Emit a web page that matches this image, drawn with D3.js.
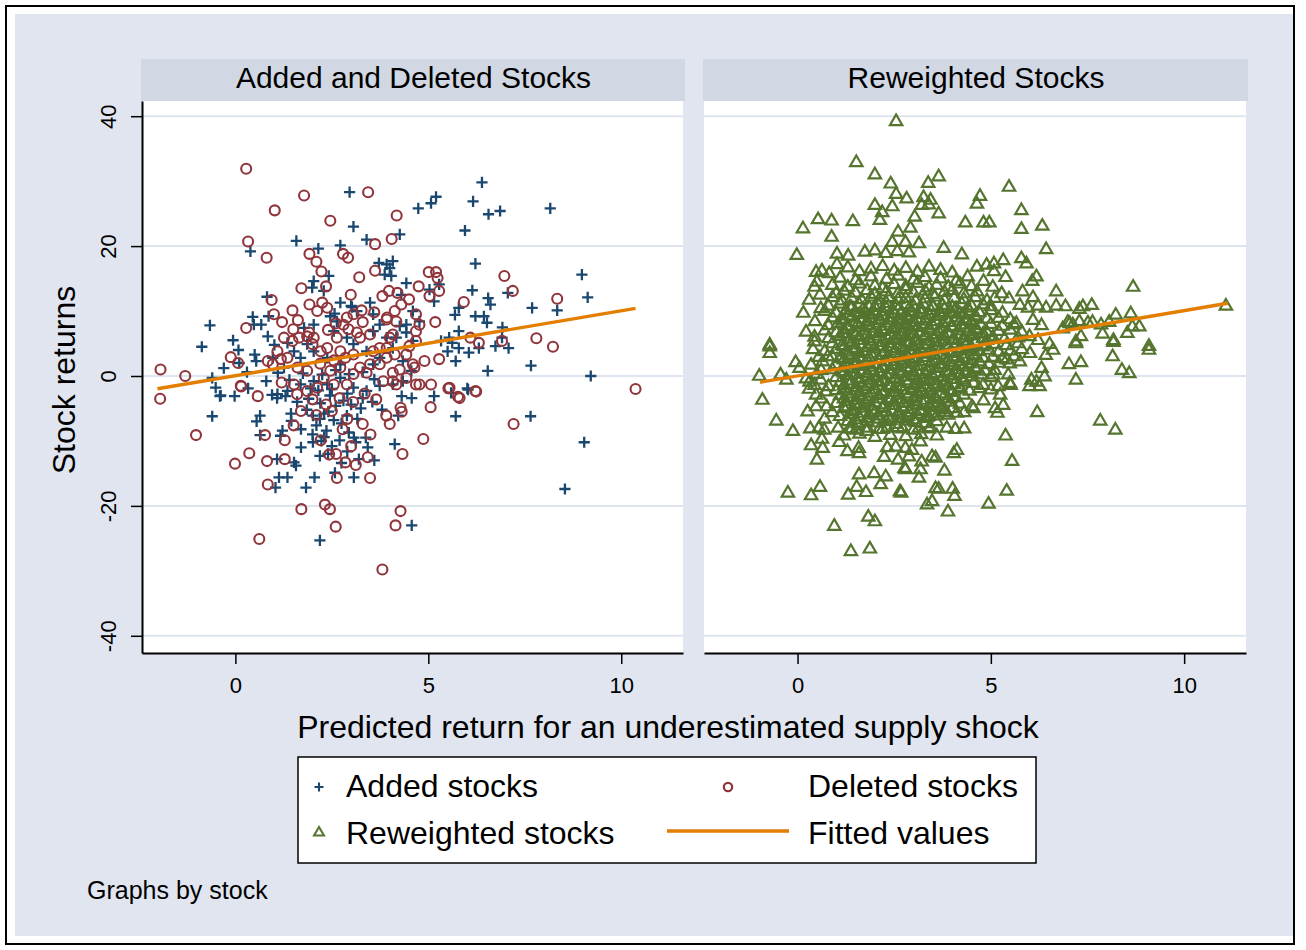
<!DOCTYPE html>
<html><head><meta charset="utf-8">
<script src="https://cdn.jsdelivr.net/npm/d3@7"></script>
<style>body{margin:0;background:#fff}</style>
</head><body>
<script>
// ---------------- DATA ----------------
const panelTitles = ["Added and Deleted Stocks", "Reweighted Stocks"];
const xTickValues = [0, 5, 10];
const yTickValues = [-40, -20, 0, 20, 40];
const xTitle = "Predicted return for an underestimated supply shock";
const yTitle = "Stock returns";
const noteText = "Graphs by stock";
const legendLabels = ["Added stocks", "Deleted stocks", "Reweighted stocks", "Fitted values"];

const added = [
[2.96,28.3],[3.06,23.0],[0.39,19.2],[1.58,20.8],[2.15,19.6],[2.72,20.1],[3.4,21.0],[4.26,21.8],[4.74,25.8],
[3.72,17.4],[3.92,17.2],[4.08,17.7],[4.0,16.6],[3.87,15.6],[4.04,15.4],
[2.42,15.4],[2.03,14.6],[1.99,13.6],[2.29,13.1],[0.82,12.2],
[4.43,14.3],[4.3,12.5],[3.49,11.3],[3.0,10.8],[2.72,11.3],[2.57,9.6],
[0.86,9.2],[0.45,9.1],[0.67,7.9],[0.48,7.9],[-0.66,7.8],
[-0.06,5.5],[0.08,4.0],[-0.87,4.5],
[0.84,6.1],[1.01,4.8],[1.35,5.1],[0.97,2.8],[0.5,3.3],[0.54,2.3],
[1.78,7.4],[2.03,7.9],[2.46,9.2],[2.63,8.4],[3.02,10.6],[3.15,10.0],
[-0.6,-0.3],[-0.51,-1.8],[-0.4,-3.1],[-0.02,-3.1],[0.33,-1.9],
[1.09,-2.8],[1.35,-2.3],[1.69,-1.3],[2.03,-0.8],[2.38,-1.3],[2.72,-0.3],[3.06,-1.8],[3.4,-2.3],[3.74,-1.5],[4.08,-1.3],[4.34,-0.8],[4.56,0.8],
[3.57,9.5],[3.74,7.9],[3.57,6.9],[3.92,5.9],[4.17,5.9],[4.43,7.9],[4.6,5.4],[3.74,2.8],[4.34,2.3],[4.08,4.3],
[1.69,2.8],[2.03,3.8],[2.38,2.8],[2.72,1.8],[3.06,4.9],[3.4,3.8],[3.57,1.8],[2.55,6.9],[2.89,5.9],[1.86,4.9],[1.52,3.8],[1.26,1.3],
[6.39,29.8],[5.2,27.6],[5.07,26.6],[6.16,26.9],[6.56,24.9],[6.86,25.4],[8.16,25.8],[5.95,22.4],[6.22,17.3],[8.98,15.6],[9.13,12.1],
[5.03,13.3],[5.28,14.1],[6.14,13.2],[6.55,12.0],[6.61,11.0],[7.06,12.8],[7.69,10.5],[8.34,10.1],
[4.6,10.0],[4.77,8.4],[5.15,11.5],[5.69,9.4],[5.79,10.5],[6.22,9.2],[6.44,9.2],[6.52,8.2],[6.92,7.5],[6.91,5.9],
[5.54,5.9],[5.79,6.9],[5.62,5.1],[5.79,4.3],[6.05,3.6],[6.31,4.3],[6.74,4.6],[7.08,4.3],
[5.33,5.4],[5.5,3.8],[5.71,2.3],[7.66,1.6],[6.54,0.8],[9.21,0.0],[6.01,-1.9],[4.26,7.7],[4.43,6.7],
[-0.6,-6.2],[-0.38,-3.0],[0.55,-7.0],[0.64,-6.1],[0.64,-9.1],
[0.95,-2.9],[1.08,-3.4],[1.3,-3.1],[1.44,-5.8],[1.22,-8.4],[1.17,-9.2],
[1.7,-8.2],[1.7,-11.0],[2.01,-10.2],[2.19,-12.3],[2.23,-10.0],[2.05,-15.6],[1.83,-17.2],
[2.01,-6.1],[2.1,-7.6],[2.19,-6.6],[2.36,-8.4],[2.41,-5.5],
[2.94,-8.7],[3.07,-9.5],[3.12,-10.2],[3.38,-9.5],[3.43,-11.0],[3.16,-6.6],[2.89,-6.1],[3.25,-5.0],
[2.58,-14.9],[3.07,-15.6],[1.08,-12.8],[1.52,-13.3],[1.57,-13.8],[1.13,-15.6],[1.35,-15.6],[1.04,-17.2],
[2.19,-25.3],[4.57,-23.0],[4.13,-10.5],[4.31,-3.1],[4.57,-3.4],[5.15,-3.1],[5.59,-2.6],[6.03,-2.1],
[5.71,-6.2],[7.65,-6.2],[9.04,-10.2],[8.54,-17.4],[4.22,-6.1],
[1.9,-3.5],[2.2,-4.2],[2.45,-3.0],[2.6,-4.6],[2.8,-3.8],[3.0,-4.4],[2.3,-5.8],[2.55,-6.8],[2.75,-7.3],[2.0,-9.0],
[2.3,-9.4],[2.5,-10.8],[2.7,-9.9],[1.85,-5.2],[1.6,-4.0],[1.45,-6.9],[2.15,-2.2],[2.5,-2.0],[2.9,-2.7],[3.3,-3.4],
[3.55,-4.0],[3.8,-5.2],[1.95,-1.9],[2.25,0.2],[2.6,0.9],[2.95,0.3],[3.3,0.6],[3.6,-0.5],[1.75,0.4],[1.4,-0.6],
[1.1,0.5],[0.8,-0.8],[0.3,0.6],[0.1,2.0],[-0.3,1.2],[3.2,-12.8],[3.6,-13.0],[2.4,-12.0],[2.9,-11.6],[2.75,-13.4]
];

const deleted = [
[0.28,31.9],[3.44,28.3],[1.78,27.8],[1.02,25.5],[2.46,23.9],[4.18,24.7],[0.33,20.7],[0.81,18.2],[1.92,18.8],[2.1,17.6],
[2.79,18.8],[2.92,18.2],[3.62,20.3],[4.05,21.1],[2.23,16.1],[3.62,16.2],[3.21,15.2],[1.71,13.5],[2.35,13.8],
[2.99,12.5],[3.81,12.3],[3.98,13.1],[4.2,12.8],[4.5,11.8],[4.75,13.8],[0.94,11.7],
[1.48,10.1],[1.92,11.0],[2.25,11.3],[2.38,10.5],[2.12,10.0],[3.27,10.1],[3.06,9.5],[2.89,9.0],
[3.93,9.0],[4.13,10.0],[4.3,11.0],[4.17,8.4],[4.68,9.5],[1.21,8.3],[1.62,8.6],[0.28,7.4],
[-0.12,2.9],[0.07,2.0],[-1.3,0.0],[-1.94,1.0],[-1.95,-3.5],[0.14,-1.5],[0.58,-3.1],
[0.84,2.3],[0.97,1.8],[1.18,2.6],[1.26,5.9],[1.48,5.4],[1.65,5.9],[1.86,6.1],[2.03,5.9],[1.91,6.7],[2.21,3.8],
[2.38,4.3],[2.63,5.9],[2.8,7.9],[2.93,7.2],[3.15,6.7],[3.23,5.9],[3.49,6.4],[2.72,3.8],[2.85,2.8],[3.06,3.3],
[3.23,1.3],[3.49,1.8],[3.74,1.8],[3.92,2.8],[4.13,3.3],[4.43,3.3],[4.6,1.8],[4.68,5.4],[4.77,7.9],[4.0,5.9],
[3.74,4.3],[3.57,3.8],[3.4,0.5],[3.06,0.3],[2.89,-1.3],[2.55,-1.3],[2.29,-0.3],[1.86,0.8],[1.61,1.3],[1.35,2.8],
[1.09,3.8],[1.52,-1.3],[1.86,-2.3],[2.12,-1.8],[2.46,0.8],[2.72,1.3],[3.83,-0.8],[4.17,-1.3],[4.43,-0.3],[4.68,-1.3],[4.08,0.5],
[6.97,15.4],[7.19,13.1],[8.34,11.9],[5.01,16.0],[5.2,16.0],[5.24,15.1],[5.03,12.3],[5.28,13.1],[5.92,11.4],[5.18,8.3],
[7.8,5.8],[8.23,4.5],[6.91,5.4],[6.31,5.1],[6.09,5.9],[5.28,2.6],[6.22,-2.3],[5.77,-3.2],[5.52,-1.9],[10.37,-2.0],
[3.92,8.7],[4.68,6.9],[4.51,4.6],[4.08,6.4],[3.92,4.3],[4.9,2.3],[4.64,1.3],[4.26,1.0],[4.08,-0.8],[4.77,-1.3],[5.07,-1.3],
[-1.02,-9.1],[-0.01,-13.5],[0.36,-11.9],[0.82,-13.1],[0.84,-16.7],[0.62,-25.1],[0.15,-1.6],[0.77,-9.1],[1.28,-9.9],[1.51,-7.6],
[1.28,-12.8],[1.71,-20.5],[2.32,-19.8],[2.45,-20.5],[2.6,-23.2],[2.21,-9.9],[2.43,-12.1],[2.61,-12.0],[2.85,-13.3],[3.12,-13.7],
[3.43,-12.5],[2.63,-15.7],[3.49,-15.7],[2.78,-8.2],[3.81,-29.8],[4.28,-20.8],[4.15,-23.0],[3.91,-6.1],[4.0,-7.4],[4.31,-5.5],
[4.28,-4.9],[5.06,-4.8],[4.87,-9.7],[4.33,-12.0],[5.81,-3.4],[6.24,-2.4],[5.55,-1.8],[7.21,-7.4],
[1.2,-1.0],[1.6,-2.8],[2.0,-3.6],[2.35,-4.4],[2.7,-3.4],[3.05,-4.0],[3.35,-2.7],[3.65,-3.6],[2.1,-6.0],[2.5,-5.4],
[2.9,-6.6],[3.3,-7.4],[1.7,-5.4],[3.5,-9.0],[3.0,-10.8],[2.2,1.9],[2.55,2.4],[2.0,4.9],[3.3,8.3],[3.6,9.8],
[2.6,8.1],[2.4,7.1],[1.5,7.2],[1.0,9.5]
];

const reweighted = [
[2.55,39.3],[1.52,33.0],[2.0,31.1],[2.41,29.7],[3.65,30.8],[3.38,29.8],[2.55,28.1],[2.82,27.4],[3.26,27.6],[3.44,27.2],
[3.21,26.4],[3.39,26.5],[2.0,26.4],[2.45,26.2],[2.19,25.3],[2.13,24.1],[3.03,24.6],[3.65,25.1],[4.64,26.6],[4.34,23.7],
[0.53,24.2],[0.88,24.0],[1.43,23.9],[0.14,22.8],[0.88,21.5],[2.6,22.3],[2.92,22.9],[-0.02,18.7],[1.02,18.9],[1.31,18.6],
[2.45,20.7],[2.79,20.7],[3.14,20.5],[3.78,19.8],[4.25,18.8],[1.74,19.2],[2.0,19.4],[2.28,19.0],[2.58,19.3],[2.88,19.1],
[1.02,17.3],[0.48,16.1],[0.63,16.3],[0.82,15.9],[0.44,13.8],[0.58,12.6],[0.22,6.9],[0.44,6.1],[-0.72,4.9],
[5.47,29.2],[4.72,27.8],[5.79,25.6],[4.81,23.7],[4.96,23.7],[5.79,22.7],[6.33,23.2],[6.43,19.6],[5.32,17.9],[5.79,18.2],
[5.92,17.4],[4.64,16.9],[4.89,17.2],[5.08,17.4],[5.08,16.2],[5.38,15.3],[6.18,15.4],[6.07,14.7],[4.81,14.7],[5.05,13.8],
[4.64,13.1],[8.68,13.8],[6.69,13.1],[5.82,13.1],[6.09,12.2],[5.47,12.0],[5.28,12.8],
[6.93,10.8],[6.69,10.9],[6.43,10.6],[6.22,10.9],[5.96,10.6],[5.75,11.0],[7.61,11.0],[7.38,10.8],[7.29,10.4],
[8.23,9.5],[8.62,9.7],[6.99,8.4],[7.12,8.0],[7.29,8.5],[7.51,8.3],[7.63,8.4],[7.85,8.0],[8.06,8.4],[6.09,8.7],
[6.31,7.9],[5.66,8.2],[11.08,10.9],[8.66,7.7],[8.84,7.7],[8.53,6.7],[7.89,6.6],[8.17,5.6],[7.33,6.2],[7.2,5.4],
[6.86,7.4],[7.04,8.2],[9.09,4.7],[6.52,5.0],[6.22,5.6],
[-0.72,4.6],[-0.72,3.6],[-0.99,0.1],[-0.44,0.3],[-0.29,-0.5],[-0.05,2.2],[0.05,1.3],[-0.91,-3.6],[-0.55,-6.8],[-0.12,-8.4],
[0.5,-12.8],[0.35,-10.6],[-0.25,-17.9],[0.35,-18.3],[0.58,-17.0],[0.95,-23.0],[1.38,-26.9],[1.87,-26.5],[1.83,-21.6],[2.0,-22.3],
[1.59,-15.1],[1.98,-14.9],[2.28,-15.4],[2.15,-16.6],[1.53,-17.0],[1.77,-17.8],[1.31,-18.2],[2.65,-17.7],[2.68,-17.9],[3.35,-19.7],
[3.48,-19.2],[3.89,-20.8],[3.57,-17.2],[3.65,-17.3],[4.01,-17.3],[4.06,-18.4],[3.14,-15.6],[3.18,-14.3],[2.79,-14.3],[2.77,-14.1],[3.8,-14.5],
[2.24,-12.4],[2.6,-12.8],[2.88,-12.3],[3.21,-13.1],[3.48,-12.3],[3.57,-12.5],[4.12,-11.3],[4.04,-11.8],[1.58,-11.0],[1.59,-11.8],
[1.29,-11.5],[1.08,-10.1],[0.65,-11.0],[0.63,-9.6],[2.32,-10.9],[2.54,-10.8],[2.79,-11.0],[2.96,-11.3],[3.18,-10.0],
[0.33,-8.0],[0.55,-7.9],[0.69,-8.2],[1.05,-7.9],[1.34,-8.0],[1.51,-8.2],[1.79,-8.4],[2.11,-8.1],[2.32,-7.9],[2.72,-8.0],
[3.14,-7.9],[3.44,-7.8],[3.86,-7.9],[4.08,-8.1],[4.31,-8.0],[4.51,-4.6],[4.12,-5.6],[4.31,-5.5],[3.78,-4.9],[3.39,-6.1],[3.57,-4.6],
[0.26,-5.4],[0.48,-4.6],[0.75,-4.6],[0.61,-3.4],[0.48,-2.8],[0.74,-2.3],[0.8,-1.5],[0.31,-0.8],[0.44,-1.3],[0.22,-0.3],
[0.78,3.1],[0.65,2.3],[0.61,1.0],[0.44,5.4],
[9.09,4.1],[8.15,3.1],[8.39,1.0],[8.58,0.5],[7.2,5.1],[8.17,5.3],[7.02,1.9],[7.33,2.2],[7.2,-0.5],[6.2,-5.5],
[7.83,-6.8],[8.22,-8.2],[5.38,-9.1],[5.55,-13.0],[5.41,-17.6],[4.94,-19.6],
[6.31,1.3],[6.39,0.0],[6.05,-0.5],[6.18,-0.8],[6.26,-1.5],[6.0,-1.5],[5.45,0.3],[5.49,-1.0],[5.51,-1.3],[5.06,0.3],
[5.19,-1.5],[5.24,-2.8],[5.32,-4.4],[4.81,-3.7],[5.11,-4.9],[5.17,-5.6],[4.55,-4.9],[6.61,4.1],[6.42,3.3],[6.01,3.6],
[5.75,2.3],[5.49,2.0],[5.41,2.6],
[1.3,16.8],[1.6,16.2],[1.9,16.6],[2.2,17.0],[2.5,16.3],[2.8,16.7],[3.1,16.1],[3.4,16.9],[3.7,16.4],[4.0,16.0],
[1.1,15.2],[1.5,14.8],[1.9,15.4],[2.3,15.0],[2.6,15.5],[3.0,14.9],[3.3,15.3],[3.7,15.1],[4.1,14.7],[4.4,15.4],
[0.9,14.1],[1.3,13.8],[1.6,14.3],[2.0,14.0],[2.2,13.6],[2.5,14.2],[2.8,13.9],[3.1,14.4],[3.4,13.7],[3.6,14.1],[3.9,13.8],[4.2,14.3],[4.5,13.9],
[1.0,12.8],[1.2,13.2],[1.5,12.9],[1.8,13.3],[2.0,12.7],[2.3,13.1],[2.6,12.8],[2.8,13.4],[3.0,12.9],[3.3,13.2],[3.5,12.7],[3.8,13.0],[4.0,13.3],[4.3,12.8],
[0.9,12.2],[1.15,11.7],[1.4,12.1],[1.65,11.9],[1.9,12.3],[2.1,11.8],[2.35,12.2],[2.6,11.9],[2.8,12.1],[3.05,11.7],[3.3,12.0],[3.55,12.3],[3.8,11.8],[4.05,12.1],[4.3,11.9],[4.6,12.2],[4.9,11.7],[5.1,12.1],
[0.8,10.9],[1.1,11.2],[1.35,10.8],[1.6,11.1],[1.85,10.7],[2.1,11.0],[2.3,11.3],[2.55,10.9],[2.8,11.1],[3.0,10.8],[3.25,11.2],[3.5,10.9],[3.75,11.0],[4.0,10.7],[4.25,11.2],[4.5,10.9],[4.8,11.1],[5.0,10.8],
[0.7,10.1],[1.0,9.8],[1.25,10.2],[1.5,9.9],[1.75,10.1],[2.0,9.7],[2.2,10.0],[2.45,10.3],[2.7,9.9],[2.95,10.1],[3.2,9.8],[3.45,10.2],[3.7,9.9],[3.95,10.0],[4.2,9.7],[4.45,10.1],[4.7,9.9],[5.0,10.2],[5.3,9.8],
[0.9,9.1],[1.15,8.8],[1.4,9.2],[1.65,8.9],[1.9,9.0],[2.15,8.7],[2.4,9.1],[2.6,8.9],[2.85,9.2],[3.1,8.8],[3.35,9.0],[3.6,9.3],[3.85,8.9],[4.1,9.1],[4.35,8.8],[4.6,9.2],[4.9,8.9],[5.2,9.0],[5.5,8.8],
[0.8,7.9],[1.05,8.2],[1.3,7.8],[1.55,8.1],[1.8,7.9],[2.05,8.3],[2.3,7.8],[2.55,8.0],[2.8,8.2],[3.0,7.7],[3.25,8.1],[3.5,7.9],[3.75,8.2],[4.0,7.8],[4.25,8.0],[4.5,8.3],[4.75,7.9],[5.0,8.1],[5.3,7.8],[5.6,8.0],
[0.7,7.1],[1.0,6.8],[1.2,7.2],[1.45,6.9],[1.7,7.1],[1.95,6.7],[2.2,7.0],[2.45,7.3],[2.7,6.9],[2.9,7.1],[3.15,6.8],[3.4,7.2],[3.65,7.0],[3.9,6.7],[4.15,7.1],[4.4,6.9],[4.65,7.2],[4.9,6.8],[5.2,7.0],[5.5,7.2],[5.8,6.9],
[0.8,5.9],[1.1,6.2],[1.35,5.8],[1.6,6.1],[1.85,5.9],[2.1,6.3],[2.35,5.8],[2.6,6.0],[2.8,6.2],[3.05,5.7],[3.3,6.1],[3.55,5.9],[3.8,6.2],[4.05,5.8],[4.3,6.0],[4.55,6.3],[4.8,5.9],[5.05,6.1],[5.35,5.8],[5.7,6.0],[6.0,6.2],
[0.9,5.1],[1.15,4.8],[1.4,5.2],[1.65,4.9],[1.9,5.0],[2.15,4.7],[2.4,5.1],[2.65,4.9],[2.9,5.2],[3.1,4.8],[3.35,5.0],[3.6,5.3],[3.85,4.9],[4.1,5.1],[4.35,4.8],[4.6,5.2],[4.85,4.9],[5.1,5.0],[5.4,4.8],[5.7,5.1],
[0.7,3.9],[1.0,4.2],[1.25,3.8],[1.5,4.1],[1.75,3.9],[2.0,4.3],[2.25,3.8],[2.5,4.0],[2.75,4.2],[2.95,3.7],[3.2,4.1],[3.45,3.9],[3.7,4.2],[3.95,3.8],[4.2,4.0],[4.45,4.3],[4.7,3.9],[4.95,4.1],[5.2,3.8],[5.5,4.0],[5.8,4.2],
[0.9,3.1],[1.1,2.8],[1.35,3.2],[1.6,2.9],[1.85,3.0],[2.1,2.7],[2.35,3.1],[2.6,2.9],[2.85,3.2],[3.05,2.8],[3.3,3.0],[3.55,3.3],[3.8,2.9],[4.05,3.1],[4.3,2.8],[4.55,3.2],[4.8,2.9],[5.05,3.0],[5.3,2.8],[5.6,3.1],
[1.0,1.9],[1.25,2.2],[1.5,1.8],[1.75,2.1],[2.0,1.9],[2.25,2.3],[2.5,1.8],[2.7,2.0],[2.95,2.2],[3.2,1.7],[3.45,2.1],[3.7,1.9],[3.95,2.2],[4.2,1.8],[4.45,2.0],[4.7,2.3],[4.95,1.9],[5.2,2.1],
[0.9,1.1],[1.15,0.8],[1.4,1.2],[1.65,0.9],[1.9,1.0],[2.15,0.7],[2.4,1.1],[2.65,0.9],[2.9,1.2],[3.1,0.8],[3.35,1.0],[3.6,1.3],[3.85,0.9],[4.1,1.1],[4.35,0.8],[4.6,1.2],[4.85,0.9],[5.1,1.0],
[1.0,-0.1],[1.3,0.2],[1.55,-0.2],[1.8,0.1],[2.05,-0.1],[2.3,0.3],[2.55,-0.2],[2.8,0.0],[3.0,0.2],[3.25,-0.3],[3.5,0.1],[3.75,-0.1],[4.0,0.2],[4.25,-0.2],[4.5,0.0],[4.75,0.3],[5.0,-0.1],
[1.1,-0.9],[1.35,-1.2],[1.6,-0.8],[1.85,-1.1],[2.1,-0.9],[2.35,-1.3],[2.6,-0.8],[2.85,-1.0],[3.1,-1.2],[3.3,-0.7],[3.55,-1.1],[3.8,-0.9],[4.05,-1.2],[4.3,-0.8],[4.55,-1.0],[4.8,-1.3],
[1.0,-2.1],[1.25,-1.8],[1.5,-2.2],[1.75,-1.9],[2.0,-2.0],[2.25,-2.3],[2.5,-1.9],[2.75,-2.1],[3.0,-1.8],[3.2,-2.2],[3.45,-2.0],[3.7,-1.7],[3.95,-2.1],[4.2,-1.9],[4.45,-2.2],[4.7,-1.8],[5.0,-2.0],
[1.1,-2.9],[1.35,-3.2],[1.6,-2.8],[1.85,-3.1],[2.1,-2.9],[2.35,-3.3],[2.6,-2.8],[2.85,-3.0],[3.05,-3.2],[3.3,-2.7],[3.55,-3.1],[3.8,-2.9],[4.05,-3.2],[4.3,-2.8],
[1.0,-4.1],[1.25,-3.8],[1.5,-4.2],[1.75,-3.9],[2.0,-4.0],[2.25,-4.3],[2.5,-3.9],[2.75,-4.1],[3.0,-3.8],[3.25,-4.2],[3.5,-4.0],[3.95,-3.9],[4.2,-4.2],
[1.2,-4.9],[1.45,-5.2],[1.7,-4.8],[1.95,-5.1],[2.2,-4.9],[2.45,-5.3],[2.7,-4.8],[2.95,-5.0],[3.2,-5.2],[3.45,-4.7],[3.7,-5.1],[4.0,-4.9],
[1.1,-6.1],[1.35,-5.8],[1.6,-6.2],[1.85,-5.9],[2.1,-6.0],[2.35,-6.3],[2.6,-5.9],[2.85,-6.1],[3.1,-5.8],[3.35,-6.2],[3.6,-6.0],[3.9,-5.9],
[1.3,-6.9],[1.55,-7.2],[1.8,-6.8],[2.05,-7.1],[2.3,-6.9],[2.55,-7.3],[2.8,-6.8],[3.05,-7.0],[3.3,-7.2],[3.6,-6.9],
[1.2,-9.1],[1.6,-8.8],[2.0,-9.3],[2.4,-9.0],[2.8,-9.2],[3.2,-8.9],[3.6,-9.1],
[0.4,4.2],[0.55,3.0],[0.35,1.8],[0.5,0.4],[0.3,-1.9],[0.6,-0.5],[0.45,8.5],[0.6,10.5],[0.3,11.8],[0.5,14.6],[0.15,9.8],[0.7,-6.5],[0.9,-5.5],
[1.4,10.6],[1.7,10.4],[2.0,10.7],[2.3,10.5],[2.6,10.3],[2.9,10.6],[3.2,10.4],[3.5,10.7],[3.8,10.4],[4.1,10.5],[4.4,10.6],
[1.3,9.4],[1.6,9.6],[1.9,9.5],[2.2,9.3],[2.5,9.7],[2.8,9.4],[3.1,9.6],[3.4,9.5],[3.7,9.4],[4.0,9.7],[4.3,9.5],[4.6,9.4],
[1.2,8.6],[1.5,8.4],[1.8,8.5],[2.1,8.7],[2.4,8.3],[2.7,8.6],[3.0,8.4],[3.3,8.6],[3.6,8.5],[3.9,8.4],[4.2,8.6],[4.5,8.5],
[1.3,7.4],[1.6,7.6],[1.9,7.5],[2.2,7.3],[2.5,7.6],[2.8,7.4],[3.1,7.6],[3.4,7.5],[3.7,7.4],[4.0,7.6],[4.3,7.5],[4.6,7.4],
[1.2,6.6],[1.5,6.4],[1.8,6.5],[2.1,6.7],[2.4,6.4],[2.7,6.5],[3.0,6.6],[3.3,6.4],[3.6,6.5],[3.9,6.6],[4.2,6.4],[4.5,6.5],[4.8,6.6],
[1.3,5.4],[1.6,5.6],[1.9,5.5],[2.2,5.3],[2.5,5.6],[2.8,5.4],[3.1,5.6],[3.4,5.5],[3.7,5.4],[4.0,5.6],[4.3,5.5],[4.6,5.4],[4.9,5.6],
[1.2,4.6],[1.5,4.4],[1.8,4.5],[2.1,4.6],[2.4,4.4],[2.7,4.5],[3.0,4.6],[3.3,4.4],[3.6,4.5],[3.9,4.6],[4.2,4.4],[4.5,4.5],[4.8,4.6],
[1.3,3.4],[1.6,3.6],[1.9,3.5],[2.2,3.3],[2.5,3.6],[2.8,3.4],[3.1,3.6],[3.4,3.5],[3.7,3.4],[4.0,3.6],[4.3,3.5],[4.6,3.4],
[1.2,2.6],[1.5,2.4],[1.8,2.5],[2.1,2.6],[2.4,2.4],[2.7,2.5],[3.0,2.6],[3.3,2.4],[3.6,2.5],[3.9,2.6],[4.2,2.4],[4.5,2.5],
[1.3,1.4],[1.6,1.6],[1.9,1.5],[2.2,1.3],[2.5,1.6],[2.8,1.4],[3.1,1.6],[3.4,1.5],[3.7,1.4],[4.0,1.6],[4.3,1.5],[4.6,1.4],
[1.2,0.6],[1.5,0.4],[1.8,0.5],[2.1,0.6],[2.4,0.4],[2.7,0.5],[3.0,0.6],[3.3,0.4],[3.6,0.5],[3.9,0.6],[4.2,0.4],[4.5,0.5],
[1.3,-0.6],[1.6,-0.4],[1.9,-0.5],[2.2,-0.7],[2.5,-0.4],[2.8,-0.6],[3.1,-0.4],[3.4,-0.5],[3.7,-0.6],[4.0,-0.4],[4.3,-0.5],
[1.2,-1.4],[1.5,-1.6],[1.8,-1.5],[2.1,-1.4],[2.4,-1.6],[2.7,-1.5],[3.0,-1.4],[3.3,-1.6],[3.6,-1.5],[3.9,-1.4],[4.2,-1.6],
[1.3,-2.6],[1.6,-2.4],[1.9,-2.5],[2.2,-2.7],[2.5,-2.4],[2.8,-2.6],[3.1,-2.4],[3.4,-2.5],[3.7,-2.6],[4.0,-2.4],
[1.2,-3.4],[1.5,-3.6],[1.8,-3.5],[2.1,-3.4],[2.4,-3.6],[2.7,-3.5],[3.0,-3.4],[3.3,-3.6],[3.6,-3.5],[3.9,-3.4],
[1.3,-4.6],[1.6,-4.4],[1.9,-4.5],[2.2,-4.7],[2.5,-4.4],[2.8,-4.6],[3.1,-4.4],[3.4,-4.5],[3.7,-4.6],
[1.4,-5.4],[1.7,-5.6],[2.0,-5.5],[2.3,-5.4],[2.6,-5.6],[2.9,-5.5],[3.2,-5.4],[3.5,-5.6],[3.8,-5.5],
[1.5,-6.6],[1.8,-6.4],[2.1,-6.5],[2.4,-6.7],[2.7,-6.4],[3.0,-6.6],[3.3,-6.4],
[1.4,-8.0],[1.8,-7.9],[2.2,-8.1],[2.6,-7.8],[3.0,-8.2],[3.4,-8.0]
];

// fitted-value lines (endpoints)
const fittedAddedDeleted = [[-2.02,-1.97],[10.37,10.4]];
const fittedReweighted = [[-0.97,-0.96],[11.13,11.2]];

// ---------------- DRAWING ----------------
const W = 1306, H = 950;
const FONT = '"Liberation Sans", Arial, Helvetica, sans-serif';
const NAVY = "#1a476f", MAROON = "#90353b", GREEN = "#55752f", ORANGE = "#e37e00";
const BG = "#e0e5ef", STRIP = "#d1d8e3", GRID = "#dfe5ee";
const fmt = d => String(d);   // plain hyphen minus, as in the original

const svg = d3.select("body").append("svg").attr("width", W).attr("height", H)
  .style("font-family", FONT);
svg.append("rect").attr("width", W).attr("height", H).attr("fill", "#fff");
svg.append("rect").attr("x", 15).attr("y", 14).attr("width", 1279).attr("height", 922).attr("fill", BG);
svg.append("rect").attr("x", 6).attr("y", 6).attr("width", 1288).attr("height", 938)
  .attr("fill", "none").attr("stroke", "#000").attr("stroke-width", 2);

const plotTop = 101, plotBottom = 653;
const panelBoxes = [{x0: 142, x1: 683}, {x0: 704, x1: 1246}];
const y = d3.scaleLinear().domain([-42.65, 42.34]).range([plotBottom, plotTop]);

const symbolPath = {
  plus: "M-5.6,0H5.6M0,-5.6V5.6",
  tri: "M0,-6.2L6.2,4.4L-6.2,4.4Z"
};
const CIRCLE_R = 5.0;
function drawMarks(g, data, sym, color, x) {
  if (sym === "circle") {
    g.append("g").selectAll("circle").data(data).join("circle")
      .attr("cx", d => x(d[0])).attr("cy", d => y(d[1])).attr("r", CIRCLE_R)
      .attr("fill", "none").attr("stroke", color).attr("stroke-width", 2.1);
  } else {
    g.append("g").selectAll("path").data(data).join("path")
      .attr("transform", d => `translate(${x(d[0])},${y(d[1])})`)
      .attr("d", symbolPath[sym])
      .attr("fill", "none").attr("stroke", color).attr("stroke-width", sym === "tri" ? 2.2 : 2.3)
      .attr("stroke-linejoin", "miter");
  }
}

const panelSeries = [
  [{data: added, sym: "plus", color: NAVY}, {data: deleted, sym: "circle", color: MAROON}],
  [{data: reweighted, sym: "tri", color: GREEN}]
];
const panelFits = [fittedAddedDeleted, fittedReweighted];

panelBoxes.forEach((pb, i) => {
  const x = d3.scaleLinear().domain([-2.42, 11.6]).range([pb.x0, pb.x1]);
  const g = svg.append("g");
  g.append("rect").attr("x", pb.x0 - 1).attr("y", 59).attr("width", pb.x1 - pb.x0 + 3)
    .attr("height", plotTop - 59).attr("fill", STRIP);
  g.append("text").attr("x", (pb.x0 + pb.x1) / 2 + 1).attr("y", 88).attr("text-anchor", "middle")
    .attr("font-size", 30).attr("fill", "#000").text(panelTitles[i]);
  g.append("rect").attr("x", pb.x0).attr("y", plotTop).attr("width", pb.x1 - pb.x0)
    .attr("height", plotBottom - plotTop).attr("fill", "#fff");
  g.append("g").selectAll("line").data(yTickValues).join("line")
    .attr("x1", pb.x0).attr("x2", pb.x1).attr("y1", d => y(d)).attr("y2", d => y(d))
    .attr("stroke", GRID).attr("stroke-width", 2);

  panelSeries[i].forEach(s => drawMarks(g, s.data, s.sym, s.color, x));

  g.append("path").datum(panelFits[i])
    .attr("d", d3.line().x(d => x(d[0])).y(d => y(d[1])))
    .attr("fill", "none").attr("stroke", ORANGE).attr("stroke-width", 3.4);

  const xa = g.append("g").attr("transform", `translate(0,${plotBottom})`)
    .call(d3.axisBottom(x).tickValues(xTickValues).tickSize(11).tickSizeOuter(0).tickFormat(fmt));
  xa.select(".domain").attr("stroke", "#000").attr("stroke-width", 2);
  xa.selectAll(".tick line").attr("stroke", "#000").attr("stroke-width", 1.5);
  xa.selectAll(".tick text").attr("font-size", 22).attr("font-family", FONT).attr("fill", "#000")
    .attr("y", 40).attr("dy", 0);

  if (i === 0) {
    const ya = g.append("g").attr("transform", `translate(${pb.x0},0)`)
      .call(d3.axisLeft(y).tickValues(yTickValues).tickSize(11).tickSizeOuter(0).tickFormat(fmt));
    ya.select(".domain").attr("stroke", "#000").attr("stroke-width", 2);
    ya.selectAll(".tick line").attr("stroke", "#000").attr("stroke-width", 1.5);
    ya.selectAll(".tick text").attr("font-size", 22).attr("font-family", FONT).attr("fill", "#000")
      .attr("x", 0).attr("dy", 0).attr("text-anchor", "middle")
      .attr("transform", "translate(-26,0) rotate(-90)");
  }
});

// axis titles
svg.append("text").attr("transform", "translate(75,380) rotate(-90)").attr("text-anchor", "middle")
  .attr("font-size", 32).attr("fill", "#000").text(yTitle);
svg.append("text").attr("x", 668).attr("y", 738).attr("text-anchor", "middle")
  .attr("font-size", 32).attr("fill", "#000").text(xTitle);

// legend
const lg = svg.append("g");
lg.append("rect").attr("x", 298).attr("y", 757).attr("width", 738).attr("height", 106)
  .attr("fill", "#fff").attr("stroke", "#000").attr("stroke-width", 1.5);
const legendItems = [
  {label: legendLabels[0], kind: "plus", color: NAVY, kx: 319, ky: 787, tx: 346, ty: 797},
  {label: legendLabels[1], kind: "circle", color: MAROON, kx: 728, ky: 787, tx: 808, ty: 797},
  {label: legendLabels[2], kind: "tri", color: GREEN, kx: 319, ky: 832, tx: 346, ty: 844},
  {label: legendLabels[3], kind: "line", color: ORANGE, kx: 728, ky: 831, tx: 808, ty: 844}
];
legendItems.forEach(it => {
  if (it.kind === "circle") {
    lg.append("circle").attr("cx", it.kx).attr("cy", it.ky).attr("r", 4.2)
      .attr("fill", "none").attr("stroke", it.color).attr("stroke-width", 2.2);
  } else if (it.kind === "line") {
    lg.append("line").attr("x1", it.kx - 61).attr("x2", it.kx + 61).attr("y1", it.ky).attr("y2", it.ky)
      .attr("stroke", it.color).attr("stroke-width", 3.4);
  } else {
    lg.append("path").attr("transform", `translate(${it.kx},${it.ky}) scale(0.8)`).attr("d", symbolPath[it.kind])
      .attr("fill", "none").attr("stroke", it.color).attr("stroke-width", 2.6);
  }
  lg.append("text").attr("x", it.tx).attr("y", it.ty).attr("font-size", 32).attr("fill", "#000").text(it.label);
});

svg.append("text").attr("x", 87).attr("y", 899).attr("font-size", 25).attr("fill", "#000").text(noteText);
</script>
</body></html>
